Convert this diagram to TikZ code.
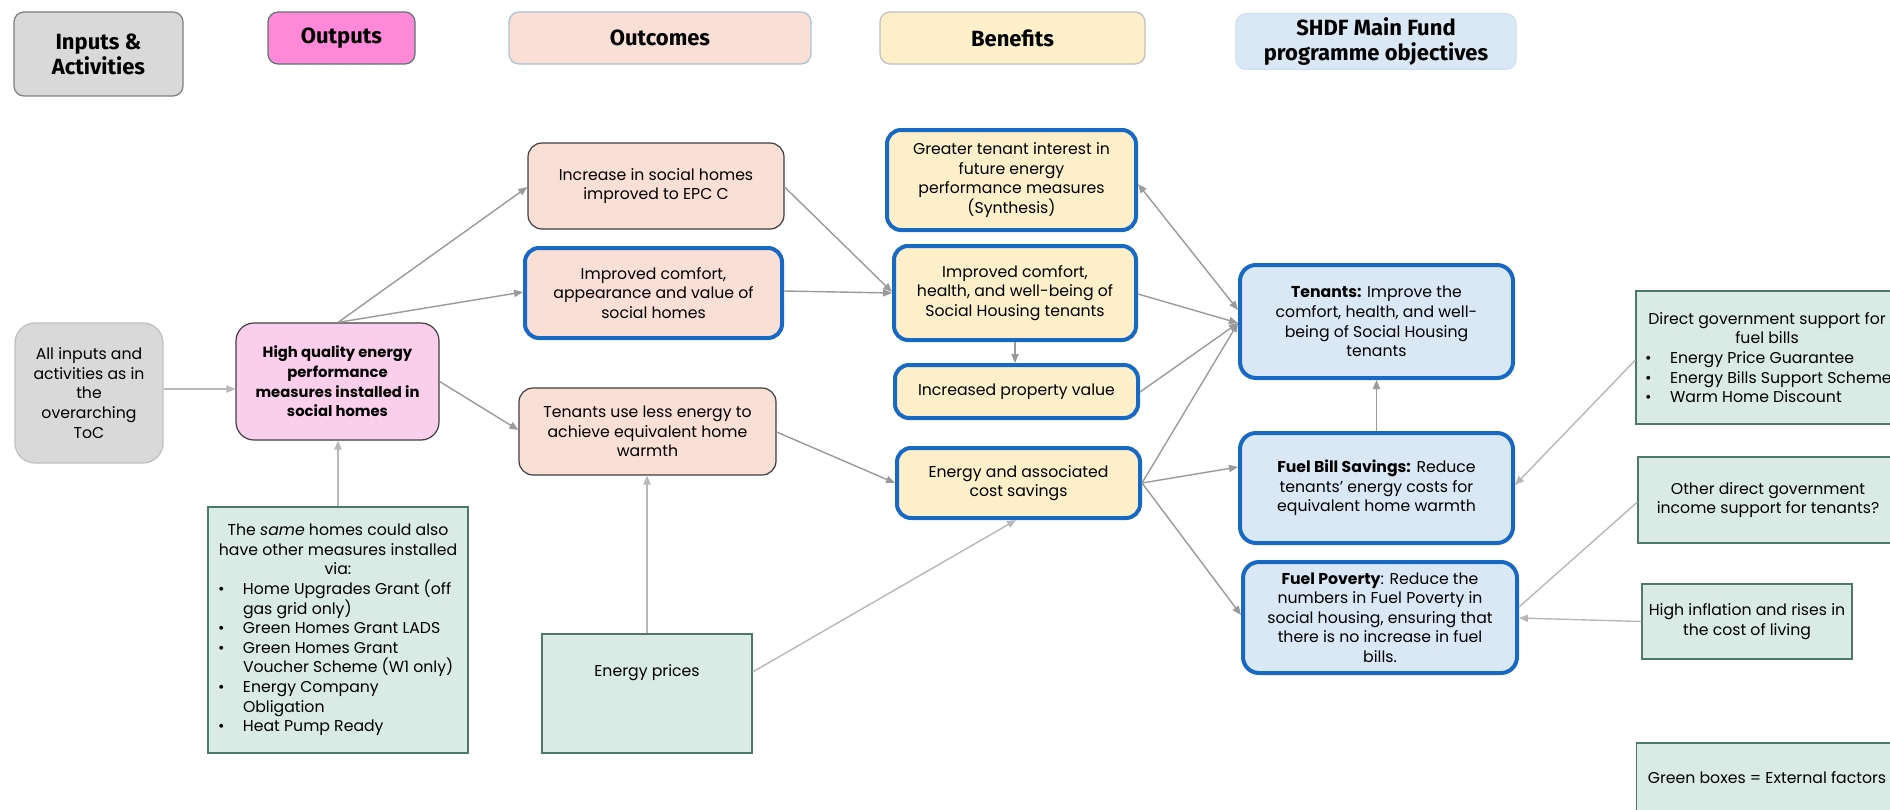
\documentclass[tikz,border=0pt]{standalone}
\usepackage{fontspec}
\setmainfont{Poppins}
\newfontfamily\hdrfont{Fira Sans}
\usetikzlibrary{arrows.meta,calc}
\definecolor{cGray}{HTML}{D9D9D9}
\definecolor{cGrayD}{HTML}{7F7F7F}
\definecolor{cGrayL}{HTML}{BFBFBF}
\definecolor{cMag}{HTML}{FF88D8}
\definecolor{cMagB}{HTML}{5E7575}
\definecolor{cPink}{HTML}{FBCFEB}
\definecolor{cOut}{HTML}{F9DFD6}
\definecolor{cBen}{HTML}{FCEFC9}
\definecolor{cObj}{HTML}{DAE8F5}
\definecolor{cHdrB}{HTML}{A9C2D6}
\definecolor{cBlue}{HTML}{1769C4}
\definecolor{cGreen}{HTML}{D9EBE4}
\definecolor{cGreenB}{HTML}{4C7A66}
\definecolor{cDark}{HTML}{3F3F3F}
\definecolor{cLine}{HTML}{9A9A9A}
\definecolor{cLineL}{HTML}{B8B8B8}
\newcommand\bitem{\makebox[12.5pt][l]{\textbullet}}
\newcommand\hind{\hspace*{12.5pt}}
\begin{document}
\begin{tikzpicture}[x=0.5pt,y=-0.5pt,
  sz/.style 2 args={minimum width={#1*0.5pt},minimum height={#2*0.5pt}},
  base/.style={align=center,inner sep=2pt,text=black,font=\fontsize{7.85}{9.8}\selectfont},
  hdr/.style={base,rounded corners=5pt,line width=0.6pt,font=\hdrfont\fontsize{11}{12.5}\selectfont\bfseries},
  outc/.style={base,fill=cOut,draw=cDark,line width=0.6pt,rounded corners=7pt},
  outb/.style={base,fill=cOut,draw=cBlue,line width=2pt,rounded corners=7pt},
  benb/.style={base,fill=cBen,draw=cBlue,line width=2pt,rounded corners=7pt},
  objb/.style={base,fill=cObj,draw=cBlue,line width=2pt,rounded corners=8pt},
  ext/.style={base,fill=cGreen,draw=cGreenB,line width=0.6pt},
  conn/.style={draw=cLine,line width=0.7pt,-{Triangle[length=4.5pt,width=3.6pt]}},
  connl/.style={draw=cLineL,line width=0.7pt,-{Triangle[length=4.5pt,width=3.6pt]}}
]
\fill[white] (0,0) rectangle (1890,809);
\useasboundingbox (0,0) rectangle (1890,809);

% headers
\node[hdr,fill=cGray,draw=cGrayD,sz={169}{84}] (hIn) at (98.5,54) {Inputs \&\\Activities};
\node[hdr,fill=cMag,draw=cMagB,sz={147}{52}] (hOut) at (341.5,38) {Outputs};
\node[hdr,fill=cOut,draw=cHdrB,sz={302}{52}] (hOc) at (660,38) {Outcomes};
\node[hdr,fill=cBen,draw=cGrayL,sz={265}{52}] (hBen) at (1012.5,38) {Benefits};
\node[hdr,fill=cObj,draw=cObj!80!cHdrB,sz={280}{53}] (hSH) at (1376,41.5) {SHDF Main Fund\\programme objectives};

% inputs / outputs
\node[base,fill=cGray,draw=cGrayL,line width=0.6pt,rounded corners=10pt,sz={148}{140}] (inp) at (89,393) {All inputs and\\activities as in\\the\\overarching\\ToC};
\node[base,fill=cPink,draw=cDark,line width=0.6pt,rounded corners=9pt,sz={203}{117},font=\fontsize{7.4}{9.8}\selectfont\bfseries] (hq) at (337.5,381.5) {High quality energy\\performance\\measures installed in\\social homes};
\node[ext,sz={260}{246}] (ext1) at (338,630) {\begin{minipage}{120pt}\centering
The \emph{same} homes could also\\\mbox{have other measures installed}\\via:\par
\raggedright
\bitem\mbox{Home Upgrades Grant (off}\\\hind gas grid only)\\
\bitem\mbox{Green Homes Grant LADS}\\
\bitem Green Homes Grant\\\hind\mbox{Voucher Scheme (W1 only)}\\
\bitem Energy Company\\\hind Obligation\\
\bitem Heat Pump Ready
\end{minipage}};

% outcomes
\node[outc,sz={256}{86}] (inc) at (656,186) {Increase in social homes\\improved to EPC C};
\node[outb,sz={257}{90}] (ica) at (653.5,293) {Improved comfort,\\appearance and value of\\social homes};
\node[outc,sz={257}{87}] (tul) at (647.5,431.5) {Tenants use less energy to\\achieve equivalent home\\warmth};
\node[ext,sz={210}{119},text depth=23pt] (ep) at (647,693.5) {Energy prices};

% benefits
\node[benb,sz={249}{100}] (gti) at (1011.5,180) {Greater tenant interest in\\future energy\\performance measures\\(Synthesis)};
\node[benb,sz={242}{94}] (ich) at (1015,293) {Improved comfort,\\health, and well-being of\\Social Housing tenants};
\node[benb,sz={243}{53}] (ipv) at (1016.5,391.5) {Increased property value};
\node[benb,sz={243}{70}] (eas) at (1018.5,483) {Energy and associated\\cost savings};

% objectives
\node[objb,sz={273}{113}] (ten) at (1376.5,321.5) {\textbf{Tenants:} Improve the\\comfort, health, and well-\\being of Social Housing\\tenants};
\node[objb,sz={273}{110}] (fbs) at (1376.5,488) {\textbf{Fuel Bill Savings:} Reduce\\tenants’ energy costs for\\equivalent home warmth};
\node[objb,sz={274}{111}] (fp) at (1380,617.5) {\textbf{Fuel Poverty}: Reduce the\\numbers in Fuel Poverty in\\social housing, ensuring that\\there is no increase in fuel\\bills.};

% external factors
\node[ext,sz={262}{133}] (dg) at (1767,357.5) {\begin{minipage}{122pt}\centering
\mbox{Direct government support for}\\fuel bills\par
\raggedright
\bitem\mbox{Energy Price Guarantee}\\
\bitem\mbox{Energy Bills Support Scheme}\\
\bitem\mbox{Warm Home Discount}
\end{minipage}};
\node[ext,sz={260}{86}] (od) at (1768,500) {Other direct government\\income support for tenants?};
\node[ext,sz={210}{75}] (hi) at (1747,621.5) {High inflation and rises in\\the cost of living};
\node[ext,sz={261}{90},text depth=11pt] (leg) at (1767,788) {Green boxes = External factors};

% connectors
\draw[connl] ($(inp.east)+(0,-4)$) -- ($(hq.west)+(0,7.5)$);
\draw[connl] (ext1.north) -- (ext1.north |- hq.south);
\draw[conn] ($(hq.north)+(0.5,0)$) -- ($(inc.west)+(0,1)$);
\draw[conn] ($(hq.north)+(0.5,0)$) -- ($(ica.west)+(0,-1)$);
\draw[conn] (hq.east) -- ($(tul.west)+(0,-1.5)$);
\draw[conn] ($(inc.east)+(0,1)$) -- ($(ich.west)+(0,-1)$);
\draw[conn] ($(ica.east)+(0,-2)$) -- (ich.west);
\draw[conn] (ich.south) -- (ich.south |- ipv.north);
\draw[conn] ($(tul.east)+(0,0.5)$) -- (eas.west);
\draw[connl] (ep.north) -- (ep.north |- tul.south);
\draw[connl] ($(ep.east)+(0,-21.5)$) -- ($(eas.south)+(-2.5,0)$);
\draw[conn,{Triangle[length=4.5pt,width=3.6pt]}-{Triangle[length=4.5pt,width=3.6pt]}] ($(gti.east)+(0,4)$) -- ($(ten.west)+(0,-11.5)$);
\draw[conn] ($(ich.east)+(0,1)$) -- ($(ten.west)+(0,1.5)$);
\draw[conn] ($(ipv.east)+(0,0.5)$) -- ($(ten.west)+(0,1.5)$);
\draw[conn] (eas.east) -- ($(ten.west)+(0,1.5)$);
\draw[conn] (eas.east) -- ($(fbs.west)+(0,-21)$);
\draw[conn] (eas.east) -- ($(fp.west)+(0,-2.5)$);
\draw[conn] (fbs.north) -- (fbs.north |- ten.south);
\draw[connl] ($(dg.west)+(0,2.5)$) -- ($(fbs.east)+(0,-3)$);
\draw[draw=cLineL,line width=0.7pt] ($(od.west)+(0,2)$) -- ($(fp.east)+(0,-10.5)$);
\draw[connl] (hi.west) -- ($(fp.east)+(0,0.5)$);
\end{tikzpicture}
\end{document}
